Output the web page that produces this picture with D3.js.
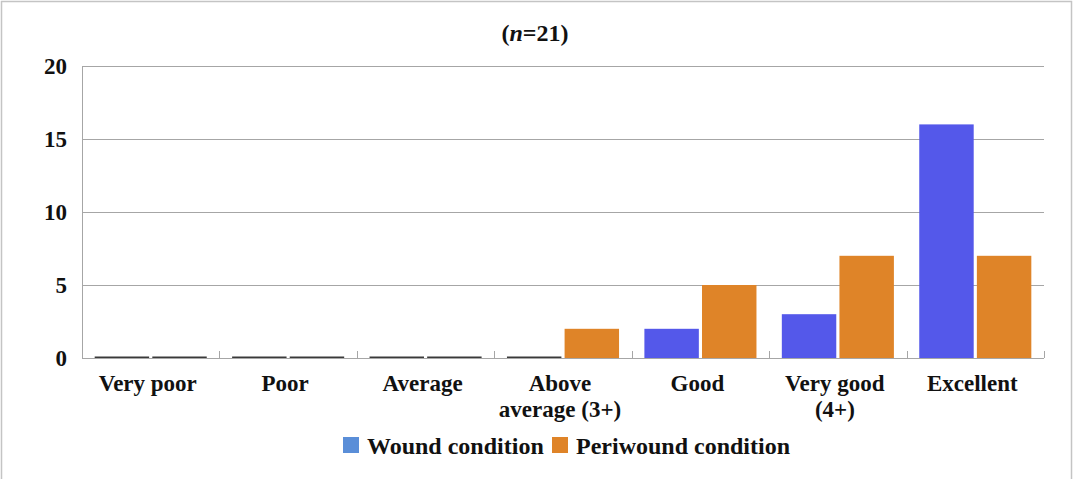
<!DOCTYPE html>
<html>
<head>
<meta charset="utf-8">
<script src="https://cdn.jsdelivr.net/npm/d3@7"></script>
<style>
  body { margin: 0; background: #fff; }
  svg text { font-family: "Liberation Serif", "DejaVu Serif", serif; font-weight: bold; fill: #111; }
</style>
</head>
<body>
<svg width="1077" height="479"></svg>
<script>
const categories = [["Very poor"], ["Poor"], ["Average"], ["Above", "average (3+)"], ["Good"], ["Very good", "(4+)"], ["Excellent"]];
const woundValues = [0, 0, 0, 0, 2, 3, 16];
const periwoundValues = [0, 0, 0, 2, 5, 7, 7];
const yTicks = [0, 5, 10, 15, 20];
const seriesNames = ["Wound condition", "Periwound condition"];

const margin = {top: 66, right: 33, bottom: 121, left: 82};
const svg = d3.select("svg"),
    width = +svg.attr("width") - margin.left - margin.right,
    height = +svg.attr("height") - margin.top - margin.bottom;

// outer frame
svg.append("rect")
    .attr("x", 1.5).attr("y", 1.5)
    .attr("width", 1070).attr("height", 485)
    .attr("fill", "none").attr("stroke", "#c4c4c4").attr("stroke-width", 1.5);

svg.append("text")
    .attr("x", 535).attr("y", 41)
    .attr("text-anchor", "middle")
    .style("font-size", "24px")
    .html('(<tspan font-style="italic">n</tspan>=21)');

const g = svg.append("g").attr("transform", `translate(${margin.left},${margin.top})`);

const x = d3.scaleBand()
    .domain(d3.range(categories.length))
    .range([0, width]);

const y = d3.scaleLinear()
    .domain([0, 20])
    .range([height, 0]);

const x1 = d3.scaleBand()
    .domain([0, 1])
    .range([0, x.bandwidth()])
    .paddingInner(0.055)
    .paddingOuter(0.22);

// gridlines
g.selectAll(".grid")
    .data(yTicks.filter(d => d > 0))
    .enter().append("line")
    .attr("x1", 0).attr("x2", width)
    .attr("y1", d => Math.round(y(d)) + 0.5).attr("y2", d => Math.round(y(d)) + 0.5)
    .attr("stroke", "#a6a6a6");

// left axis line
g.append("line")
    .attr("x1", 0.5).attr("x2", 0.5)
    .attr("y1", y(20)).attr("y2", y(0))
    .attr("stroke", "#a6a6a6");

// y labels
g.selectAll(".ylab")
    .data(yTicks)
    .enter().append("text")
    .attr("x", -15)
    .attr("y", d => y(d) + 8)
    .attr("text-anchor", "end")
    .style("font-size", "23px")
    .text(d => d);

const colors = ["#5458ea", "#df8428"];
const legendColors = ["#5a8ed8", "#df8428"];
const series = [woundValues, periwoundValues];

series.forEach((vals, s) => {
    g.selectAll(".bar" + s)
        .data(vals)
        .enter().append("rect")
        .attr("x", (d, i) => x(i) + x1(s))
        .attr("width", x1.bandwidth())
        .attr("y", d => d === 0 ? y(0) - 1.5 : y(d))
        .attr("height", d => d === 0 ? 2 : y(0) - y(d))
        .attr("fill", d => d === 0 ? "#3a3a3a" : colors[s]);
});

// bottom axis line with inward ticks at band edges
g.append("line")
    .attr("x1", 0).attr("x2", width)
    .attr("y1", height + 0.5).attr("y2", height + 0.5)
    .attr("stroke", "#a6a6a6");
g.selectAll(".tick")
    .data(d3.range(categories.length + 1))
    .enter().append("line")
    .attr("x1", i => Math.round(i * x.step()) + 0.5).attr("x2", i => Math.round(i * x.step()) + 0.5)
    .attr("y1", height - 7).attr("y2", height)
    .attr("stroke", "#a6a6a6");

// x labels
const xl = g.selectAll(".xlab")
    .data(categories)
    .enter().append("text")
    .attr("text-anchor", "middle")
    .attr("transform", (d, i) => `translate(${x(i) + x.bandwidth() / 2 - 3},${height + 33})`)
    .style("font-size", "23px");
xl.selectAll("tspan")
    .data(d => d)
    .enter().append("tspan")
    .attr("x", 0)
    .attr("dy", (d, i) => i === 0 ? 0 : 26)
    .text(d => d);

// legend
const legendX = [343, 552];
seriesNames.forEach((name, i) => {
    svg.append("rect")
        .attr("x", legendX[i]).attr("y", 437)
        .attr("width", 16).attr("height", 16)
        .attr("fill", legendColors[i]);
    svg.append("text")
        .attr("x", legendX[i] + 24).attr("y", 454)
        .style("font-size", "24px")
        .text(name);
});
</script>
</body>
</html>
